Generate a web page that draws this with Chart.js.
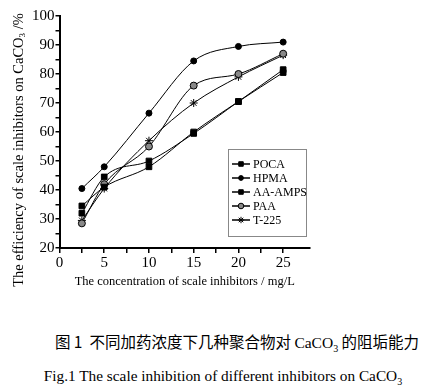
<!DOCTYPE html>
<html>
<head>
<meta charset="utf-8">
<script src="https://cdn.jsdelivr.net/npm/chart.js@4/dist/chart.umd.min.js"></script>
<style>
  body { margin: 0; background: #fff; width: 422px; height: 389px; position: relative; overflow: hidden; }
  #wrap { position: absolute; left: 0; top: 0; width: 422px; height: 300px; }
  .cap { position: absolute; left: 0; width: 422px; text-align: center; color: #000; white-space: nowrap; }
  #capZh { top: 330px; left: 26px; font: 15.5px "Noto Sans CJK SC", sans-serif; }
  #capZh .en, #capEn { font-family: "Liberation Serif", serif; }
  #capEn { top: 367px; left: 12px; font-size: 15.3px; }
</style>
</head>
<body>
<div id="wrap"><canvas id="scaleChart" width="422" height="300"></canvas></div>
<div class="cap" id="capZh">图 1&nbsp; 不同加药浓度下几种聚合物对 <span class="en">CaCO<sub style="font-size:10px">3</sub></span> 的阻垢能力</div>
<div class="cap" id="capEn">Fig.1 The scale inhibition of different inhibitors on CaCO<sub style="font-size:10px">3</sub></div>
<script>
const concentrations = [2.5, 5, 10, 15, 20, 25];
const seriesNames = ['POCA', 'HPMA', 'AA-AMPS', 'PAA', 'T-225'];
const poca = [34.5, 41, 48, 60, 70.5, 80.5];
const hpma = [40.5, 48, 66.5, 84.5, 89.5, 91];
const aaAmps = [32, 44.5, 50, 59.5, 70.5, 81.5];
const paa = [28.5, 42, 55, 76, 80, 87];
const t225 = [29.5, 40.5, 57, 70, 79, 86.5];

const serif = 'Liberation Serif';
const styles = [
  { pointStyle: 'rect', pointRadius: 4, bg: '#000' },
  { pointStyle: 'circle', pointRadius: 3, bg: '#000' },
  { pointStyle: 'rect', pointRadius: 4, bg: '#000' },
  { pointStyle: 'circle', pointRadius: 3.5, bg: '#888' },
  { pointStyle: 'star', pointRadius: 4, bg: '#000' }
];

const values = [poca, hpma, aaAmps, paa, t225];
const datasets = values.map((v, i) => ({
  label: seriesNames[i],
  data: v.map((y, j) => ({ x: concentrations[j], y: y })),
  borderColor: '#000',
  borderWidth: 1,
  backgroundColor: styles[i].bg,
  pointBackgroundColor: styles[i].bg,
  pointBorderColor: '#000',
  pointBorderWidth: 1,
  pointStyle: styles[i].pointStyle,
  pointRadius: styles[i].pointRadius,
  cubicInterpolationMode: 'monotone'
}));

// legend box inside the plot + rotated y title with subscript
const extras = {
  id: 'extras',
  afterDraw(chart) {
    const ctx = chart.ctx;
    ctx.save();
    // legend
    const bx = 228, by = 149, bw = 78, bh = 87;
    ctx.strokeStyle = '#888';
    ctx.lineWidth = 1;
    ctx.strokeRect(bx + 0.5, by + 0.5, bw, bh);
    ctx.font = '12px "' + serif + '"';
    ctx.textBaseline = 'middle';
    chart.data.datasets.forEach((ds, i) => {
      const y = by + 15 + i * 14;
      ctx.strokeStyle = '#000';
      ctx.lineWidth = 1.5;
      ctx.beginPath();
      ctx.moveTo(bx + 4, y);
      ctx.lineTo(bx + 22, y);
      ctx.stroke();
      ctx.fillStyle = ds.pointBackgroundColor;
      ctx.lineWidth = 1;
      Chart.helpers.drawPoint(ctx, { pointStyle: ds.pointStyle, radius: ds.pointRadius * 0.8, borderWidth: 1 }, bx + 13, y);
      ctx.fillStyle = '#000';
      ctx.fillText(ds.label, bx + 25, y + 1);
    });
    // y axis title
    ctx.translate(19, 150);
    ctx.rotate(-Math.PI / 2);
    ctx.fillStyle = '#000';
    ctx.textBaseline = 'middle';
    const main = 'The efficiency of scale inhibitors on CaCO';
    const tail = ' /%';
    ctx.font = '14.5px "' + serif + '"';
    const w1 = ctx.measureText(main).width;
    const w3 = ctx.measureText(tail).width;
    ctx.font = '9px "' + serif + '"';
    const w2 = ctx.measureText('3').width;
    let x0 = -(w1 + w2 + w3) / 2;
    ctx.font = '14.5px "' + serif + '"';
    ctx.fillText(main, x0, 0);
    ctx.font = '9px "' + serif + '"';
    ctx.fillText('3', x0 + w1, 4);
    ctx.font = '14.5px "' + serif + '"';
    ctx.fillText(tail, x0 + w1 + w2, 0);
    ctx.restore();
  }
};

new Chart(document.getElementById('scaleChart'), {
  type: 'line',
  data: { datasets: datasets },
  options: {
    responsive: false,
    animation: false,
    layout: { padding: { left: 31, right: 112, top: 16, bottom: 11 } },
    plugins: { legend: { display: false }, tooltip: { enabled: false } },
    scales: {
      x: {
        type: 'linear',
        min: 0,
        max: 28,
        afterBuildTicks: (s) => { s.ticks = s.ticks.filter(t => t.value <= 27.5); },
        border: { color: '#000', width: 2 },
        grid: { drawOnChartArea: false, color: '#000', tickLength: 5, lineWidth: 1.5 },
        ticks: {
          stepSize: 2.5,
          autoSkip: false,
          maxRotation: 0,
          padding: 1,
          color: '#000',
          font: { family: serif, size: 15 },
          callback: (v) => (v % 5 === 0 && v <= 25 ? v : '')
        },
        title: {
          display: true,
          text: 'The concentration of scale inhibitors / mg/L',
          color: '#000',
          font: { family: serif, size: 12.5 },
          padding: { top: 1, bottom: 0 }
        }
      },
      y: {
        min: 20,
        max: 100,
        border: { color: '#000', width: 2 },
        grid: { drawOnChartArea: false, color: '#000', tickLength: 4, lineWidth: 1.5 },
        ticks: {
          stepSize: 5,
          autoSkip: false,
          padding: 1,
          color: '#000',
          font: { family: serif, size: 15 },
          callback: (v) => (v % 10 === 0 ? v : '')
        }
      }
    }
  },
  plugins: [extras]
});
</script>
</body>
</html>
